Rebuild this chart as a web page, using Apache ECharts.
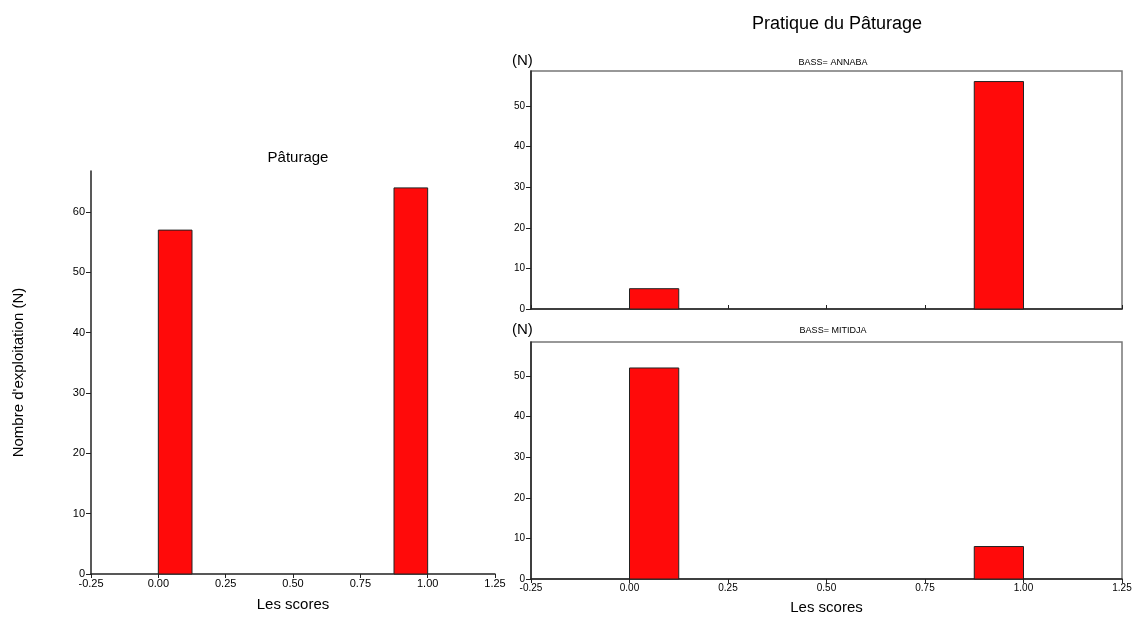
<!DOCTYPE html>
<html>
<head>
<meta charset="utf-8">
<script src="https://cdn.jsdelivr.net/npm/echarts@6/dist/echarts.min.js"></script>
<style>
  html, body { margin: 0; padding: 0; background: #fff; }
  #main { width: 1136px; height: 624px; }
</style>
</head>
<body>
<div id="main"></div>
<script>
// bins of the score (0 / 1), histogram counts
var binStart = [0, 0.875];
var binEnd = [0.125, 1.0];
var countAll = [57, 64];
var countAnnaba = [5, 56];
var countMitidja = [52, 8];

var myChart = echarts.init(document.getElementById('main'));

var font = 'Liberation Sans, Arial, sans-serif';

function makeData(counts) {
    return counts.map(function (c, i) {
        return [binStart[i], binEnd[i], c];
    });
}

function renderBin(params, api) {
    var p0 = api.coord([api.value(0), 0]);
    var p1 = api.coord([api.value(1), api.value(2)]);
    return {
        type: 'rect',
        shape: { x: p0[0], y: p1[1], width: p1[0] - p0[0], height: p0[1] - p1[1] },
        style: { fill: '#ff0a0a', stroke: '#222', lineWidth: 1 }
    };
}

function xAxisOf(idx, showLabel, inside, nameText, gap, size) {
    return {
        type: 'value', gridIndex: idx, min: -0.25, max: 1.25, interval: 0.25,
        name: nameText, nameLocation: 'middle', nameGap: gap,
        nameTextStyle: { color: '#000', fontSize: 15, fontFamily: font },
        axisLine: { show: true, onZero: false, lineStyle: { color: '#222', width: 1.5 } },
        axisTick: { show: true, inside: inside, length: 4, lineStyle: { color: '#222' } },
        axisLabel: {
            show: showLabel, color: '#000', fontSize: size, fontFamily: font, margin: 4,
            formatter: function (v) { return v.toFixed(2); }
        },
        splitLine: { show: false }
    };
}

function yAxisOf(idx, max, size, nameText) {
    return {
        type: 'value', gridIndex: idx, min: 0, max: max, interval: 10,
        name: nameText, nameLocation: 'middle', nameGap: 65,
        nameTextStyle: { color: '#000', fontSize: 15, fontFamily: font },
        axisLine: { show: true, onZero: false, lineStyle: { color: '#222', width: 1.5 } },
        axisTick: { show: true, length: 5, lineStyle: { color: '#222' } },
        axisLabel: {
            color: '#000', fontSize: size, fontFamily: font, margin: 6,
            showMaxLabel: false
        },
        splitLine: { show: false }
    };
}

var option = {
    animation: false,
    backgroundColor: '#fff',
    title: [
        { text: 'Pratique du Pâturage', left: 832, top: 10, textAlign: 'center',
          textStyle: { fontSize: 18, fontWeight: 'normal', color: '#000', fontFamily: font } },
        { text: 'Pâturage', left: 293, top: 145, textAlign: 'center',
          textStyle: { fontSize: 15, fontWeight: 'normal', color: '#000', fontFamily: font } },
        { text: '(N)', left: 507, top: 48,
          textStyle: { fontSize: 15, fontWeight: 'normal', color: '#000', fontFamily: font } },
        { text: '(N)', left: 507, top: 317,
          textStyle: { fontSize: 15, fontWeight: 'normal', color: '#000', fontFamily: font } },
        { text: 'BASS= ANNABA', left: 828, top: 53, textAlign: 'center',
          textStyle: { fontSize: 9, fontWeight: 'normal', color: '#000', fontFamily: font } },
        { text: 'BASS= MITIDJA', left: 828, top: 321, textAlign: 'center',
          textStyle: { fontSize: 9, fontWeight: 'normal', color: '#000', fontFamily: font } }
    ],
    grid: [
        { left: 91, top: 171, width: 404, height: 403 },
        { left: 531, top: 71, width: 591, height: 238, show: true, borderColor: '#777', borderWidth: 1.5 },
        { left: 531, top: 342, width: 591, height: 237, show: true, borderColor: '#777', borderWidth: 1.5 }
    ],
    xAxis: [
        xAxisOf(0, true, false, 'Les scores', 23, 11),
        xAxisOf(1, false, true, '', 20, 10),
        xAxisOf(2, true, false, 'Les scores', 21, 10)
    ],
    yAxis: [
        yAxisOf(0, 66.8, 11, "Nombre d'exploitation (N)"),
        yAxisOf(1, 58.6, 10, ''),
        yAxisOf(2, 58.4, 10, '')
    ],
    series: [
        { type: 'custom', xAxisIndex: 0, yAxisIndex: 0, renderItem: renderBin,
          encode: { x: [0, 1], y: 2 }, data: makeData(countAll) },
        { type: 'custom', xAxisIndex: 1, yAxisIndex: 1, renderItem: renderBin,
          encode: { x: [0, 1], y: 2 }, data: makeData(countAnnaba) },
        { type: 'custom', xAxisIndex: 2, yAxisIndex: 2, renderItem: renderBin,
          encode: { x: [0, 1], y: 2 }, data: makeData(countMitidja) }
    ]
};

myChart.setOption(option);
</script>
</body>
</html>
